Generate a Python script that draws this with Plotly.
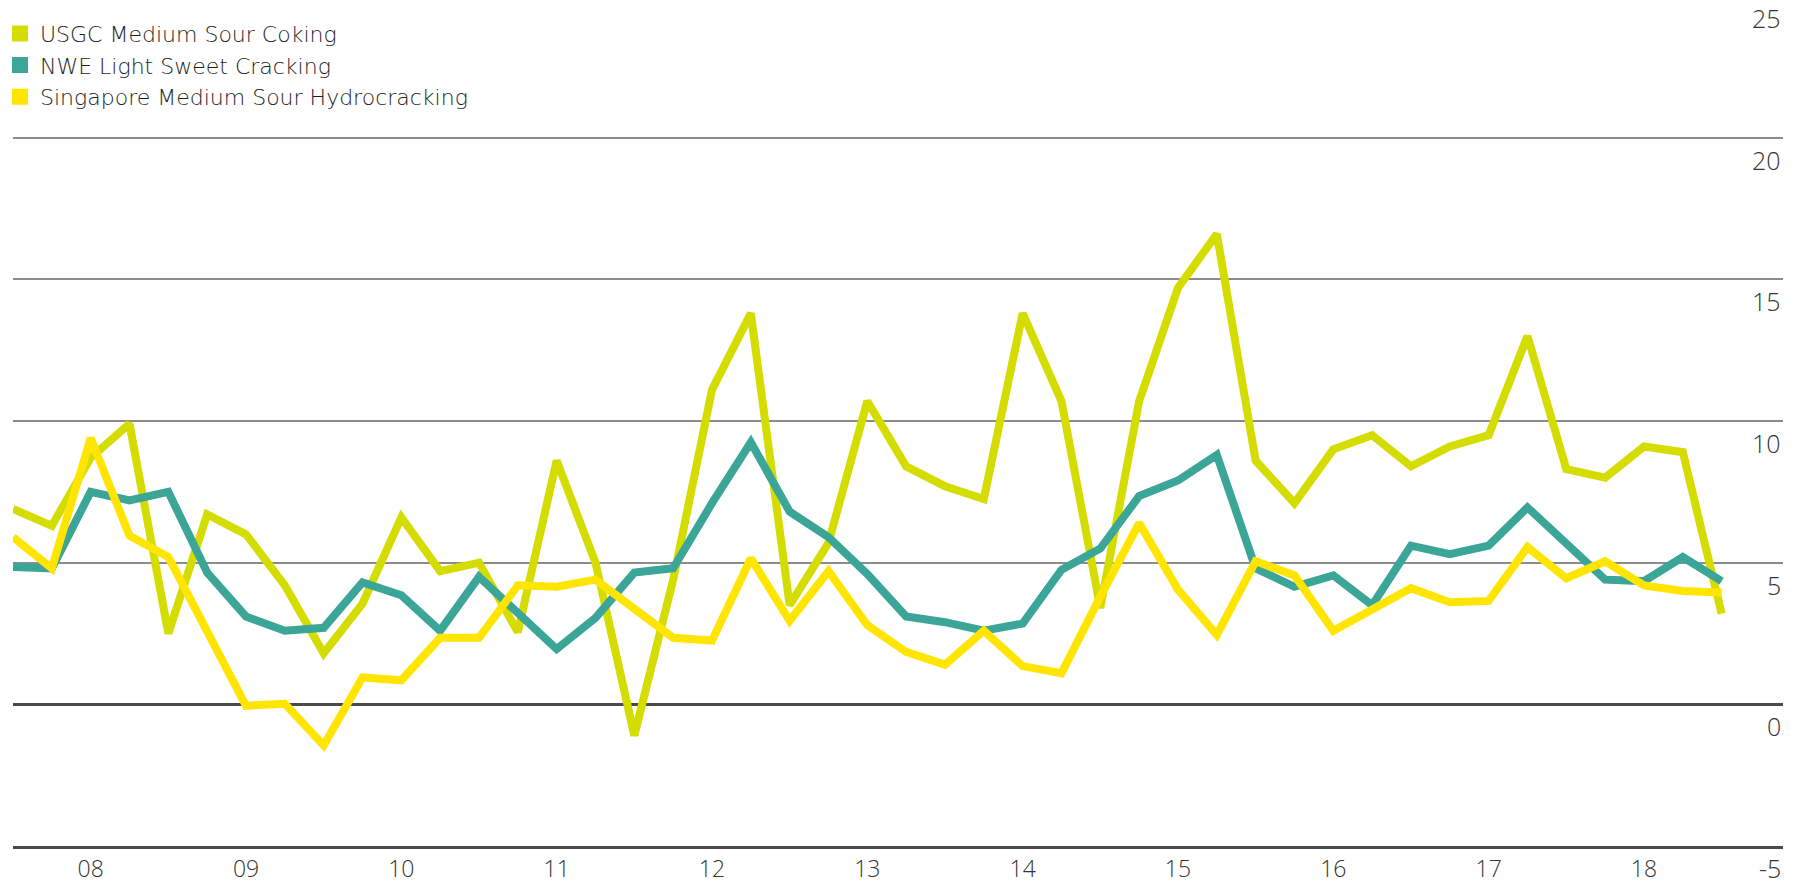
import plotly.graph_objects as go

# quarterly observations, 3Q 2007 to 3Q 2018
quarters = [f"{y}Q{q}" for y in range(2007, 2019) for q in range(1, 5)][2:47]

usgc = [6.9, 6.3, 8.7, 9.9, 2.5, 6.7, 6.0, 4.2, 1.8, 3.55, 6.6, 4.7, 5.0, 2.55, 8.6,
        5.0, -1.1, 4.4, 11.1, 13.8, 3.5, 5.7, 10.7, 8.4, 7.7, 7.25, 13.8, 10.7, 3.4, 10.7,
        14.7, 16.6, 8.6, 7.1, 9.0, 9.5, 8.4, 9.1, 9.5, 13.0, 8.3, 8.0, 9.1, 8.9, 3.2]
nwe = [4.85, 4.8, 7.5, 7.2, 7.5, 4.65, 3.1, 2.6, 2.7, 4.3, 3.85, 2.6, 4.5, 3.2, 1.95,
       3.05, 4.65, 4.8, 7.1, 9.25, 6.8, 5.9, 4.6, 3.1, 2.9, 2.6, 2.85, 4.75, 5.5, 7.35,
       7.9, 8.8, 4.8, 4.15, 4.55, 3.5, 5.6, 5.3, 5.6, 6.95, 5.7, 4.4, 4.35, 5.2, 4.35]
singapore = [5.9, 4.8, 9.4, 5.95, 5.2, 2.6, -0.05, 0.02, -1.45, 0.95, 0.85, 2.35, 2.35, 4.2, 4.15,
             4.4, 3.35, 2.35, 2.25, 5.15, 2.95, 4.7, 2.8, 1.85, 1.4, 2.6, 1.35, 1.1, 3.8, 6.4,
             4.05, 2.45, 5.05, 4.55, 2.6, 3.35, 4.1, 3.6, 3.65, 5.55, 4.45, 5.05, 4.2, 4.0, 3.95]

year_labels = ["08", "09", "10", "11", "12", "13", "14", "15", "16", "17", "18"]
year_ticks = [f"20{y}Q1" for y in year_labels]
y_ticks = [25, 20, 15, 10, 5, 0, -5]
y_range = [-5, 24.86]

series = [
    ("USGC Medium Sour Coking", usgc, "#d4dc00"),
    ("NWE Light Sweet Cracking", nwe, "#3ba597"),
    ("Singapore Medium Sour Hydrocracking", singapore, "#ffe500"),
]

FONT = "Open Sans"
TEXT = "#333333"

fig = go.Figure()

for name, vals, color in series:
    fig.add_trace(go.Scatter(
        x=quarters, y=vals, mode="lines", name=name,
        line=dict(color=color, width=8),
        showlegend=False,
    ))

# square legend keys
for name, vals, color in series:
    fig.add_trace(go.Scatter(
        x=[None], y=[None], mode="markers", name=name,
        marker=dict(symbol="square", size=16, color=color),
    ))

# y labels sit just under their gridlines, inside the plot on the right
for v in y_ticks:
    fig.add_annotation(
        x=1, xref="paper", y=(v - y_range[0]) / (y_range[1] - y_range[0]), yref="paper",
        text=str(v), xanchor="right", yanchor="middle", yshift=-22, showarrow=False,
        font=dict(family=FONT, size=25, color=TEXT, weight=300),
    )

fig.update_layout(
    width=1802, height=884,
    margin=dict(l=12, r=19, t=0, b=38),
    plot_bgcolor="white", paper_bgcolor="white",
    font=dict(family=FONT, size=23, color=TEXT, weight=300),
    legend=dict(
        x=-0.0073, y=0.985, xanchor="left", yanchor="top",
        bgcolor="rgba(0,0,0,0)",
        font=dict(family="DejaVu Sans", size=22, color="#1e1e1e", weight=300),
        itemclick=False, tracegroupgap=0,
    ),
    hovermode=False,
)

fig.update_xaxes(
    type="category", categoryorder="array", categoryarray=quarters,
    range=[0, 45.58],
    tickmode="array", tickvals=year_ticks, ticktext=year_labels,
    ticks="", showgrid=False, zeroline=False,
    showline=True, linecolor="#4a4a4a", linewidth=2.5,
    tickfont=dict(family=FONT, size=23, color=TEXT, weight=300),
    ticklabelstandoff=1, automargin=False,
)

fig.update_yaxes(
    range=y_range, dtick=5, tick0=0,
    showticklabels=False, ticks="", automargin=False,
    showgrid=True, gridcolor="#8c8c8c", gridwidth=1.5,
    zeroline=True, zerolinecolor="#4a4a4a", zerolinewidth=2.5,
)

fig.write_html("out.html", config={"displayModeBar": False},
               post_script="document.body.style.margin='0';")
